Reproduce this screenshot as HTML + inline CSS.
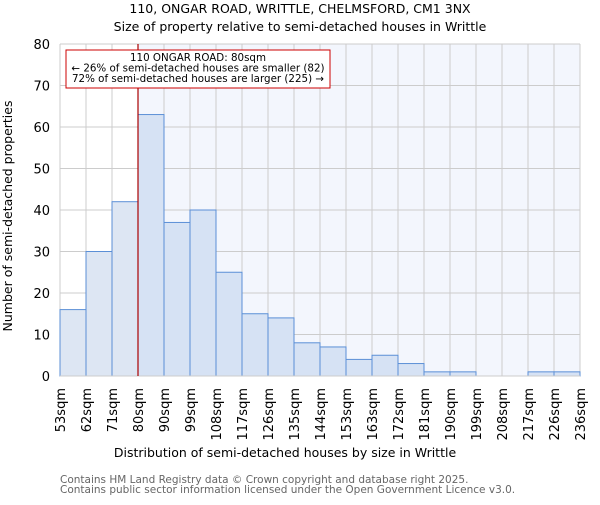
<!DOCTYPE html>
<html><head><meta charset="utf-8"><style>body{margin:0;background:#fff}svg{font-family:"DejaVu Sans","Liberation Sans",sans-serif}</style></head>
<body>
<svg id="c" width="600" height="500">
<text x="300" y="13" text-anchor="middle" font-size="12.5">110, ONGAR ROAD, WRITTLE, CHELMSFORD, CM1 3NX</text>
<text x="300" y="31" text-anchor="middle" font-size="12.5">Size of property relative to semi-detached houses in Writtle</text>
<g id="plot"></g>
<text x="285" y="457" text-anchor="middle" font-size="12.5">Distribution of semi-detached houses by size in Writtle</text>
<text transform="translate(12,216) rotate(-90)" text-anchor="middle" font-size="12.5">Number of semi-detached properties</text>
<text x="60" y="483" font-size="10.5" fill="#666">Contains HM Land Registry data © Crown copyright and database right 2025.</text>
<text x="60" y="493" font-size="10.5" fill="#666">Contains public sector information licensed under the Open Government Licence v3.0.</text>
</svg>
<script>
const categories=["53sqm","62sqm","71sqm","80sqm","90sqm","99sqm","108sqm","117sqm","126sqm","135sqm","144sqm","153sqm","163sqm","172sqm","181sqm","190sqm","199sqm","208sqm","217sqm","226sqm","236sqm"];
const counts=[16,30,42,63,37,40,25,15,14,8,7,4,5,3,1,1,0,0,1,1];
const yTicks=[0,10,20,30,40,50,60,70,80];
const markerBin=3;
const L=60,R=580,T=44,B=376,yMax=80;
const NS="http://www.w3.org/2000/svg";
const g=document.getElementById('plot');
const bw=(R-L)/counts.length;
const xs=i=>L+i*bw;
const ys=v=>B-(B-T)*v/yMax;
function mk(t,a,p){const e=document.createElementNS(NS,t);for(const k in a)e.setAttribute(k,a[k]);(p||g).appendChild(e);return e;}
const mx=xs(markerBin);
let bg=mk('rect',{x:mx,y:T,width:R-mx,height:B-T,fill:'#f3f6fd'});


for(let i=0;i<=counts.length;i++){mk('line',{x1:xs(i),x2:xs(i),y1:T,y2:B,stroke:'#ccc','stroke-width':1});}
yTicks.forEach(v=>{mk('line',{x1:L,x2:R,y1:ys(v),y2:ys(v),stroke:'#ccc'});
 const t=mk('text',{x:L-10,y:ys(v)+5,'text-anchor':'end','font-size':13});t.textContent=v;
 
 });
counts.forEach((v,i)=>{if(v<=0)return;const r=mk('rect',{x:xs(i),y:ys(v),width:bw,height:B-ys(v),fill:i<markerBin?'#dde6f3':'#d6e2f4',stroke:'#5b8fd6','stroke-width':1});
 
 });
mk('line',{x1:L,x2:R,y1:B,y2:B,stroke:'#ccc'});
categories.forEach((c,i)=>{const x=xs(i);const t=mk('text',{transform:`translate(${x+5},${B+12}) rotate(-90)`,'text-anchor':'end','font-size':13});t.textContent=c;
 
 });
const ml=mk('line',{x1:mx,x2:mx,y1:T,y2:B,stroke:'#a00','stroke-width':1.2});


const box=mk('rect',{x:66,y:50,width:264,height:38,fill:'#fff',stroke:'#c00','stroke-width':1});


["110 ONGAR ROAD: 80sqm","← 26% of semi-detached houses are smaller (82)","72% of semi-detached houses are larger (225) →"].forEach((s,k)=>{const t=mk('text',{x:198,y:61+k*10.5,'text-anchor':'middle','font-size':10.3});t.textContent=s;
 
 });
</script>
</body></html>
